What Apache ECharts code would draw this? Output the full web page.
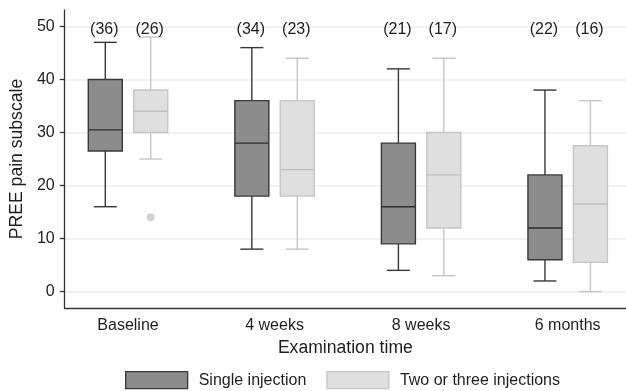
<!DOCTYPE html>
<html>
<head>
<meta charset="utf-8">
<script src="https://cdn.jsdelivr.net/npm/echarts@6/dist/echarts.min.js"></script>
<style>html,body{margin:0;padding:0;background:#fff}#c{width:626px;height:391px}</style>
</head>
<body>
<div id="c"></div>
<script>
// ---- data ----
const categories = ['Baseline', '4 weeks', '8 weeks', '6 months'];
const yTicks = [0, 10, 20, 30, 40, 50];

const singleMin = [16, 8, 4, 2];
const singleQ1  = [26.5, 18, 9, 6];
const singleMed = [30.5, 28, 16, 12];
const singleQ3  = [40, 36, 28, 22];
const singleMax = [47, 46, 42, 38];
const singleN   = [36, 34, 21, 22];

const twoMin = [25, 8, 3, 0];
const twoQ1  = [30, 18, 12, 5.5];
const twoMed = [34, 23, 22, 16.5];
const twoQ3  = [38, 36, 30, 27.5];
const twoMax = [48, 44, 44, 36];
const twoN   = [26, 23, 17, 16];

const twoOutliers = [[0, 14]]; // [category index, value]

// ---- styling ----
const FONT = 'Liberation Sans, Arial, Helvetica, sans-serif';
const OFFSET = 0.155;     // box centre offset from group centre (x units)
const BOX_HALF = 0.116;   // half box width (x units)
const CAP_HALF = 11.5;    // whisker cap half width (px)
const N_LABEL_VALUE = 50; // level of the count labels

const styles = {
  single: { fill: '#8c8c8c', stroke: '#383838', whisker: '#383838', median: '#2e2e2e' },
  two:    { fill: '#dfdfdf', stroke: '#c6c6c6', whisker: '#c6c6c6', median: '#c0c0c0' }
};

function buildData(mins, q1s, meds, q3s, maxs, ns) {
  return categories.map((c, i) => [i, mins[i], q1s[i], meds[i], q3s[i], maxs[i], ns[i]]);
}

function makeRender(offset, st) {
  return function (params, api) {
    const xi = api.value(0);
    const lo = api.value(1), q1 = api.value(2), med = api.value(3), q3 = api.value(4), hi = api.value(5);
    const n = api.value(6);
    const cx = api.coord([xi + offset, 0])[0];
    const unit = api.size([1, 0])[0];
    const hw = unit * BOX_HALF;
    const y = v => api.coord([xi + offset, v])[1];
    const lw = 1.4;
    const line = (x1, y1, x2, y2, color) => ({
      type: 'line', shape: { x1, y1, x2, y2 },
      style: { stroke: color, lineWidth: lw }
    });
    return {
      type: 'group',
      children: [
        line(cx, y(q3), cx, y(hi), st.whisker),
        line(cx - CAP_HALF, y(hi), cx + CAP_HALF, y(hi), st.whisker),
        line(cx, y(q1), cx, y(lo), st.whisker),
        line(cx - CAP_HALF, y(lo), cx + CAP_HALF, y(lo), st.whisker),
        {
          type: 'rect',
          shape: { x: cx - hw, y: y(q3), width: 2 * hw, height: y(q1) - y(q3) },
          style: { fill: st.fill, stroke: st.stroke, lineWidth: lw }
        },
        line(cx - hw, y(med), cx + hw, y(med), st.median),
        {
          type: 'text',
          style: {
            text: '(' + n + ')', x: cx - 1, y: y(N_LABEL_VALUE) + 3,
            align: 'center', verticalAlign: 'middle', textAlign: 'center', textVerticalAlign: 'middle',
            fontSize: 16, fontFamily: FONT, fill: '#1e1e1e'
          }
        }
      ]
    };
  };
}

const chart = echarts.init(document.getElementById('c'), null, { renderer: 'canvas' });
chart.setOption({
  backgroundColor: '#ffffff',
  animation: false,
  textStyle: { fontFamily: FONT },
  grid: { left: 63, right: 0, top: 10, bottom: 83, containLabel: false },
  xAxis: {
    type: 'value',
    min: -0.432, max: 3.398,
    axisLine: { show: true, onZero: false, lineStyle: { color: '#333', width: 1.3 } },
    axisTick: { show: false },
    splitLine: { show: false },
    axisLabel: {
      customValues: [0, 1, 2, 3],
      formatter: v => categories[Math.round(v)] || '',
      fontSize: 16, color: '#1e1e1e', margin: 10, fontFamily: FONT
    },
    name: 'Examination time',
    nameLocation: 'middle',
    nameGap: 27,
    nameTextStyle: { fontSize: 17.6, color: '#1e1e1e', fontFamily: FONT }
  },
  yAxis: {
    type: 'value',
    min: -3.1, max: 53.1,
    axisLine: { show: true, onZero: false, lineStyle: { color: '#333', width: 1.3 } },
    axisTick: { show: true, length: 5, customValues: yTicks, lineStyle: { color: '#333', width: 1.3 } },
    axisLabel: { customValues: yTicks, fontSize: 16, color: '#1e1e1e', margin: 10, fontFamily: FONT },
    splitLine: { show: true, lineStyle: { color: '#ececec', width: 1.5 } },
    name: 'PREE pain subscale',
    nameLocation: 'middle',
    nameGap: 34,
    nameTextStyle: { fontSize: 17.6, color: '#1e1e1e', fontFamily: FONT }
  },
  legend: {
    left: 120, top: 366,
    itemWidth: 62, itemHeight: 17, itemGap: 20,
    textStyle: { fontSize: 16, color: '#1e1e1e', fontFamily: FONT, padding: [0, 0, 0, 6] },
    data: [
      { name: 'Single injection', icon: 'rect', itemStyle: { color: styles.single.fill, borderColor: styles.single.stroke, borderWidth: 1.3 } },
      { name: 'Two or three injections', icon: 'rect', itemStyle: { color: styles.two.fill, borderColor: styles.two.stroke, borderWidth: 1.3 } }
    ]
  },
  series: [
    {
      name: 'Single injection', type: 'custom',
      itemStyle: { color: styles.single.fill, borderColor: styles.single.stroke },
      encode: { x: 0, y: [1, 2, 3, 4, 5] },
      renderItem: makeRender(-OFFSET, styles.single),
      data: buildData(singleMin, singleQ1, singleMed, singleQ3, singleMax, singleN)
    },
    {
      name: 'Two or three injections', type: 'custom',
      itemStyle: { color: styles.two.fill, borderColor: styles.two.stroke },
      encode: { x: 0, y: [1, 2, 3, 4, 5] },
      renderItem: makeRender(OFFSET, styles.two),
      data: buildData(twoMin, twoQ1, twoMed, twoQ3, twoMax, twoN)
    },
    {
      name: 'Two or three injections outliers', type: 'scatter',
      symbol: 'circle', symbolSize: 8,
      itemStyle: { color: '#c8c8c8' },
      data: twoOutliers.map(o => [o[0] + OFFSET, o[1]])
    }
  ]
});
</script>
</body>
</html>
